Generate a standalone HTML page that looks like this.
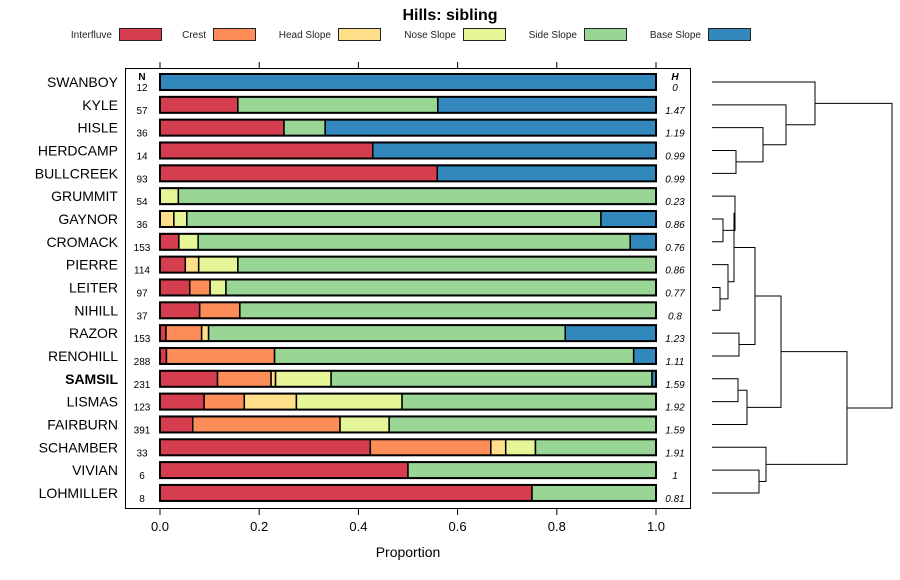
<!DOCTYPE html>
<html><head><meta charset="utf-8"><style>
body{margin:0;background:#fff}
svg{display:block;font-family:"Liberation Sans",sans-serif}
</style></head><body>
<svg id="chart" width="900" height="580" viewBox="0 0 900 580">
<text x="450" y="20" text-anchor="middle" font-size="16" font-weight="bold">Hills: sibling</text>
<g id="legend"></g>
<rect x="125.5" y="68.5" width="565" height="440" fill="none" stroke="#000" stroke-width="1"/>
<g id="axes"></g>
<g id="bars"></g>
<g id="dendro" fill="none" stroke="#000" stroke-width="1"></g>
<text x="408" y="557" text-anchor="middle" font-size="14">Proportion</text>
<text x="142" y="80" text-anchor="middle" font-size="10" font-weight="bold">N</text>
<text x="675" y="80" text-anchor="middle" font-size="10" font-weight="bold" font-style="italic">H</text>
</svg>
<script>
const classes = ["Interfluve","Crest","Head Slope","Nose Slope","Side Slope","Base Slope"];
const colors = ["#D53E4F","#FC8D59","#FEE08B","#E6F598","#99D594","#3288BD"];
const hills = ["SWANBOY","KYLE","HISLE","HERDCAMP","BULLCREEK","GRUMMIT","GAYNOR","CROMACK","PIERRE","LEITER","NIHILL","RAZOR","RENOHILL","SAMSIL","LISMAS","FAIRBURN","SCHAMBER","VIVIAN","LOHMILLER"];
const counts = [12,57,36,14,93,54,36,153,114,97,37,153,288,231,123,391,33,6,8];
const entropy = ["0","1.47","1.19","0.99","0.99","0.23","0.86","0.76","0.86","0.77","0.8","1.23","1.11","1.59","1.92","1.59","1.91","1","0.81"];
const interfluve = [0,0.157,0.25,0.429,0.559,0,0,0.038,0.051,0.06,0.08,0.012,0.013,0.116,0.089,0.066,0.424,0.5,0.75];
const crest      = [0,0,0,0,0,0,0,0,0,0.041,0.081,0.072,0.218,0.108,0.081,0.297,0.243,0,0];
const headSlope  = [0,0,0,0,0,0,0.028,0,0.027,0,0,0.014,0,0.009,0.105,0,0.03,0,0];
const noseSlope  = [0,0,0,0,0,0.037,0.026,0.039,0.079,0.032,0,0,0,0.112,0.213,0.099,0.06,0,0];
const sideSlope  = [0,0.403,0.083,0,0,0.963,0.835,0.871,0.843,0.867,0.839,0.719,0.724,0.647,0.512,0.538,0.243,0.5,0.25];
const baseSlope  = [1,0.44,0.667,0.571,0.441,0,0.111,0.052,0,0,0,0.183,0.045,0.008,0,0,0,0,0];
const xTicks = ["0.0","0.2","0.4","0.6","0.8","1.0"];
// dendrogram merges: [childA, childB, height] ; leaves are row indices, clusters are "c"+index
const merges = [
 [3,4,736],["c0",2,763],["c1",1,786],["c2",0,815],
 [6,7,723],[9,10,720],["c5",8,728],[5,"c4",735],["c7","c6",734],
 [11,12,739],["c8","c9",755],[13,14,738],["c11",15,747],["c10","c12",781],
 [17,18,759],["c14",16,766],["c13","c15",847],["c3","c16",892]
];
const NS="http://www.w3.org/2000/svg";
const svg=document.getElementById('chart');
function mk(tag,attrs,parent){const e=document.createElementNS(NS,tag);for(const k in attrs)e.setAttribute(k,attrs[k]);parent.appendChild(e);return e;}
const x0=160,x1=656;
const xs=v=>x0+(x1-x0)*v;
const rowY=i=>82+i*22.83;
// legend
const leg=document.getElementById('legend');
const legRects=[119,213,338,463,584,708];
classes.forEach((c,i)=>{
  const t=mk('text',{x:legRects[i]-7,y:38,'text-anchor':'end','font-size':10,fill:'#222'},leg);
  t.textContent=c;
  
  
  const r=mk('rect',{x:legRects[i]+0.5,y:28.5,width:42,height:12,fill:colors[i],stroke:'#222','stroke-width':1},leg);
  
  
});
// axes
const ax=document.getElementById('axes');
xTicks.forEach((lab,i)=>{
  const v=parseFloat(lab);const x=xs(v);
  const t1=mk('line',{x1:x,x2:x,y1:62,y2:68,stroke:'#000'},ax);
  
  
  const t2=mk('line',{x1:x,x2:x,y1:509,y2:515,stroke:'#000'},ax);
  
  
  const tl=mk('text',{x:x,y:531,'text-anchor':'middle','font-size':13},ax);
  tl.textContent=lab;
  
  
});
// bars
const bars=document.getElementById('bars');
const series=[interfluve,crest,headSlope,noseSlope,sideSlope,baseSlope];
hills.forEach((h,i)=>{
  const y=rowY(i);
  const lab=mk('text',{x:118,y:y+5,'text-anchor':'end','font-size':14,'font-weight':h==='SAMSIL'?'bold':'normal'},svg);
  lab.textContent=h;
  
  
  const n=mk('text',{x:142,y:y+9,'text-anchor':'middle','font-size':10},svg);
  n.textContent=counts[i];
  
  
  const hl=mk('text',{x:675,y:y+9,'text-anchor':'middle','font-size':10,'font-style':'italic'},svg);
  hl.textContent=entropy[i];
  
  
  let cum=0;
  series.forEach((s,k)=>{
    const v=s[i];if(v<=0)return;
    const r=mk('rect',{x:xs(cum),y:y-8,width:xs(cum+v)-xs(cum),height:16,fill:colors[k],stroke:'#000','stroke-width':1.5},bars);
    
    
    cum+=v;
  });
  const o=mk('rect',{x:xs(0),y:y-8,width:xs(1)-xs(0),height:16,fill:'none',stroke:'#000','stroke-width':2},bars);
  
  
});
// dendrogram
const dg=document.getElementById('dendro');
const leafX=712;
const info={};
function get(c){if(typeof c==='number')return {x:leafX,y:rowY(c)};return info[c];}
merges.forEach((m,i)=>{
  const a=get(m[0]),b=get(m[1]),h=m[2];
  const p=mk('path',{d:`M${a.x},${a.y}H${h}V${b.y}H${b.x}`},dg);
  
  
  info['c'+i]={x:h,y:(a.y+b.y)/2};
});
</script>
</body></html>
